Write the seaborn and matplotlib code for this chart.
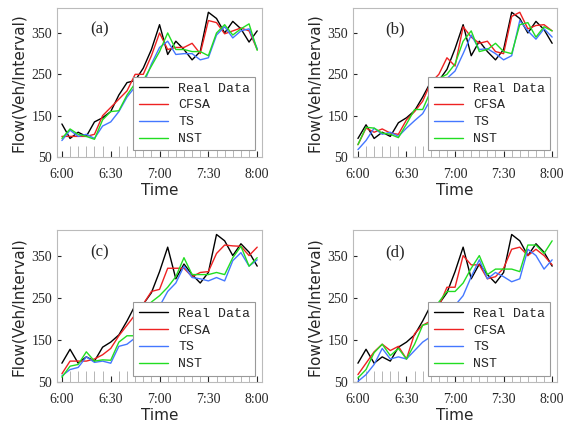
import numpy as np
import pandas as pd
import matplotlib
matplotlib.use("Agg")
import matplotlib.pyplot as plt
import seaborn as sns
from matplotlib.ticker import MultipleLocator

minutes = list(range(0, 125, 5))
tick_labels = ['6:00', '6:30', '7:00', '7:30', '8:00']

real = [95, 128, 95, 110, 100, 133, 145, 162, 195, 232, 235, 262, 312, 370, 295,
        330, 305, 285, 310, 400, 385, 350, 378, 358, 325]
real_a = [130, 95, 110, 100, 135, 145, 160, 200, 230, 235, 265, 310, 370, 298,
          330, 310, 285, 305, 400, 385, 350, 378, 360, 328, 355]

cfsa_a = [100, 100, 100, 100, 105, 150, 170, 190, 210, 250, 250, 295, 350, 310, 315,
          315, 325, 300, 380, 375, 348, 355, 362, 355, 310]
ts_a = [90, 115, 100, 105, 95, 125, 135, 160, 195, 220, 225, 275, 315, 330, 298,
        300, 300, 285, 290, 345, 365, 338, 355, 360, 312]
nst_a = [95, 118, 105, 100, 93, 140, 160, 162, 200, 228, 235, 270, 305, 350, 310,
         310, 305, 305, 295, 350, 370, 345, 360, 372, 308]

cfsa_b = [80, 120, 110, 118, 108, 105, 140, 160, 185, 230, 250, 290, 270, 365, 340,
          325, 330, 305, 300, 390, 400, 360, 368, 370, 355]
ts_b = [68, 90, 120, 105, 110, 100, 120, 138, 155, 190, 225, 240, 258, 300, 345,
        310, 312, 300, 285, 295, 380, 355, 335, 360, 340]
nst_b = [80, 122, 120, 108, 105, 97, 130, 165, 165, 210, 240, 250, 275, 330, 355,
         305, 310, 325, 305, 300, 370, 375, 340, 365, 355]

cfsa_c = [70, 100, 100, 100, 105, 115, 130, 160, 185, 210, 235, 265, 270, 320, 320,
          320, 300, 310, 312, 355, 375, 373, 372, 350, 370]
ts_c = [65, 80, 85, 110, 97, 100, 95, 135, 140, 155, 205, 215, 230, 265, 285,
        325, 298, 295, 290, 298, 290, 338, 357, 325, 340]
nst_c = [62, 88, 92, 122, 100, 103, 102, 145, 160, 160, 215, 240, 255, 275, 300,
         345, 305, 305, 305, 310, 305, 345, 372, 325, 345]

cfsa_d = [68, 95, 122, 140, 125, 135, 105, 165, 185, 195, 230, 275, 275, 350, 328,
          328, 295, 300, 320, 365, 370, 350, 365, 350, 328]
ts_d = [52, 68, 92, 130, 105, 110, 105, 125, 145, 158, 195, 235, 232, 255, 300,
        340, 295, 310, 300, 288, 295, 365, 350, 318, 340]
nst_d = [60, 80, 120, 140, 113, 130, 105, 140, 185, 190, 240, 265, 265, 285, 320,
         350, 305, 318, 318, 318, 312, 375, 375, 355, 385]

panels = [
    ('(a)', real_a, cfsa_a, ts_a, nst_a, [0.099, 0.633, 0.356, 0.348]),
    ('(b)', real, cfsa_b, ts_b, nst_b, [0.613, 0.633, 0.354, 0.348]),
    ('(c)', real, cfsa_c, ts_c, nst_c, [0.099, 0.107, 0.356, 0.355]),
    ('(d)', real, cfsa_d, ts_d, nst_d, [0.613, 0.107, 0.354, 0.355]),
]
palette = {'Real Data': 'black', 'CFSA': '#ee2222', 'TS': '#4477ff', 'NST': '#22dd22'}

sns.set_style("white")
fig = plt.figure(figsize=(5.76, 4.28), dpi=100)
serif = 'Liberation Serif'

for label, r, c, t, n, pos in panels:
    ax = fig.add_axes(pos)
    df = pd.DataFrame({'Time': minutes * 4,
                       'Flow': r + c + t + n,
                       'Model': ['Real Data'] * 25 + ['CFSA'] * 25 + ['TS'] * 25 + ['NST'] * 25})
    sns.lineplot(data=df, x='Time', y='Flow', hue='Model', palette=palette, lw=1, ax=ax)
    ax.set_xlim(-3, 123)
    ax.set_ylim(50, 410)
    ax.set_xticks([0, 30, 60, 90, 120])
    ax.set_xticklabels(tick_labels, fontfamily=serif, fontsize=10)
    ax.xaxis.set_minor_locator(MultipleLocator(5))
    ax.set_yticks([50, 150, 250, 350])
    ax.set_yticklabels(['50', '150', '250', '350'], fontfamily=serif, fontsize=10)
    ax.tick_params(axis='x', which='both', direction='in', bottom=True, length=4, pad=8)
    ax.tick_params(axis='x', which='minor', length=8, color='#aaaaaa', width=0.6)
    ax.tick_params(axis='y', left=True, direction='in', length=3)
    for s in ax.spines.values():
        s.set_color('#bbbbbb')
    ax.set_xlabel('Time', fontsize=11, labelpad=1)
    ax.set_ylabel('Flow(Veh/Interval)', fontsize=11)
    ax.text(0.16, 0.83, label, transform=ax.transAxes, fontfamily=serif, fontsize=12)
    leg = ax.legend(loc='lower right', prop={'family': 'Liberation Mono', 'size': 9.5},
                    handlelength=2.2, borderpad=0.4, labelspacing=0.35, fancybox=False,
                    framealpha=1, edgecolor='#999999')
    leg.get_frame().set_linewidth(0.8)

fig.savefig('out.png', dpi=100)
